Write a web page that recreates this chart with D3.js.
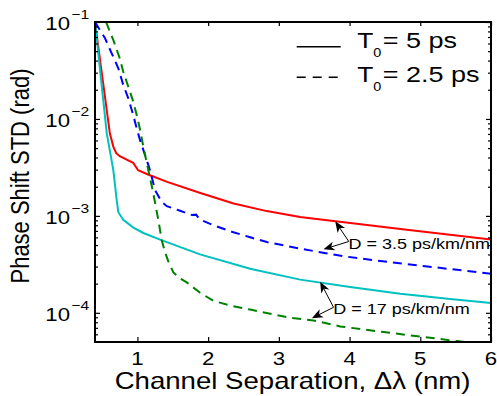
<!DOCTYPE html>
<html>
<head>
<meta charset="utf-8">
<script src="https://cdn.jsdelivr.net/npm/d3@7"></script>
<style>
  html, body { margin: 0; padding: 0; background: #fff; }
  text { font-family: "Liberation Sans", Arial, Helvetica, sans-serif; fill: #000; }
</style>
</head>
<body>
<svg id="chart" width="497" height="396"></svg>
<script>
// Phase-shift standard deviation versus channel separation.
// T0 = 5 ps, D = 3.5 ps/km/nm (solid red)
const sepT5D35 = [0.40, 0.51, 0.61, 0.66, 0.70, 0.75, 0.94, 1.01, 1.15, 1.42, 1.89, 2.36, 2.83, 3.30, 3.77, 4.01, 4.72, 5.42, 6.00];
const stdT5D35 = [0.1, 2.5e-2, 7.1e-3, 5.15e-3, 4.43e-3, 4.13e-3, 3.52e-3, 2.96e-3, 2.67e-3, 2.24e-3, 1.72e-3, 1.34e-3, 1.12e-3, 9.75e-4, 8.86e-4, 8.45e-4, 7.34e-4, 6.38e-4, 5.69e-4];
// T0 = 5 ps, D = 17 ps/km/nm (solid cyan)
const sepT5D17 = [0.40, 0.566, 0.659, 0.707, 0.730, 0.800, 0.942, 1.084, 1.320, 1.886, 2.594, 3.301, 4.009, 4.716, 5.424, 6.00];
const stdT5D17 = [0.1, 7.13e-3, 2.96e-3, 1.45e-3, 1.09e-3, 9.12e-4, 7.57e-4, 6.66e-4, 5.69e-4, 4.01e-4, 2.85e-4, 2.20e-4, 1.85e-4, 1.57e-4, 1.39e-4, 1.26e-4];
// T0 = 2.5 ps, D = 3.5 ps/km/nm (dashed blue)
const sepT25D35 = [0.40, 0.542, 0.636, 0.730, 0.800, 0.871, 0.934, 0.990, 1.037, 1.108, 1.178, 1.249, 1.344, 1.415, 1.603, 1.770, 1.830, 1.880, 2.074, 2.357, 2.594, 2.830, 3.301, 3.914, 4.575, 6.00];
const stdT25D35 = [0.1, 6.79e-2, 4.75e-2, 3.33e-2, 2.24e-2, 1.63e-2, 1.14e-2, 7.98e-3, 6.04e-3, 4.23e-3, 2.96e-3, 1.84e-3, 1.39e-3, 1.26e-3, 1.13e-3, 1.02e-3, 1.03e-3, 9.2e-4, 8.0e-4, 6.78e-4, 6.01e-4, 5.37e-4, 4.59e-4, 3.83e-4, 3.33e-4, 2.53e-4];
// T0 = 2.5 ps, D = 17 ps/km/nm (dashed green)
const sepT25D17 = [0.556, 0.659, 0.744, 0.800, 0.871, 0.942, 1.001, 1.044, 1.084, 1.154, 1.225, 1.296, 1.344, 1.391, 1.437, 1.508, 1.603, 1.698, 1.886, 2.074, 2.311, 2.594, 3.160, 3.489, 3.867, 4.480, 5.519, 6.00];
const stdT25D17 = [0.1, 6.52e-2, 4.35e-2, 3.07e-2, 2.15e-2, 1.50e-2, 1.02e-2, 7.31e-3, 5.15e-3, 2.96e-3, 1.70e-3, 9.01e-4, 5.60e-4, 4.21e-4, 3.40e-4, 2.61e-4, 2.26e-4, 2.06e-4, 1.61e-4, 1.33e-4, 1.19e-4, 1.08e-4, 8.89e-5, 8.34e-5, 7.24e-5, 6.33e-5, 5.11e-5, 4.6e-5];

// Axis ticks and labels
const xTicks = [1, 2, 3, 4, 5, 6];
const yMajorTicks = [1e-4, 1e-3, 1e-2, 1e-1];
const yExponents = ["\u22124", "\u22123", "\u22122", "\u22121"];
const yMinorTicks = [6e-5, 7e-5, 8e-5, 9e-5, 2e-4, 3e-4, 4e-4, 5e-4, 6e-4, 7e-4, 8e-4, 9e-4,
                     2e-3, 3e-3, 4e-3, 5e-3, 6e-3, 7e-3, 8e-3, 9e-3, 2e-2, 3e-2, 4e-2, 5e-2, 6e-2, 7e-2, 8e-2, 9e-2];

const xTitle = "Channel Separation, \u0394\u03bb (nm)";
const yTitle = "Phase Shift STD (rad)";
const legendLabels = [["T", "0", "= 5 ps"], ["T", "0", "= 2.5 ps"]];
const noteLabels = ["D = 3.5 ps/km/nm", "D = 17 ps/km/nm"];

const series = [
  { xs: sepT5D35, ys: stdT5D35, color: "#ff0000", dash: null },
  { xs: sepT5D17, ys: stdT5D17, color: "#00c0c0", dash: null },
  { xs: sepT25D35, ys: stdT25D35, color: "#0000ff", dash: "9,6" },
  { xs: sepT25D17, ys: stdT25D17, color: "#008000", dash: "9,6" }
];

const SX = 1.2; // horizontal stretch of the lettering
const svg = d3.select("#chart");
const plotLeft = 95, plotRight = 491, plotTop = 22, plotBottom = 342;

const x = d3.scaleLinear().domain([0.4, 6]).range([plotLeft, plotRight]);
const y = d3.scaleLog().domain([5e-5, 0.1]).range([plotBottom, plotTop]);

function txt(g, px, py, str, size, anchor, rot) {
  return g.append("text")
    .attr("transform", `translate(${px},${py}) scale(${SX},1)` + (rot ? ` rotate(${rot})` : ""))
    .attr("text-anchor", anchor || "start")
    .style("font-size", size + "px")
    .text(str);
}

// Clip for the curves
svg.append("defs").append("clipPath").attr("id", "plotClip")
  .append("rect").attr("x", plotLeft).attr("y", plotTop)
  .attr("width", plotRight - plotLeft).attr("height", plotBottom - plotTop);

// Curves
const line = d3.line().x(d => x(d[0])).y(d => y(d[1]));
const curves = svg.append("g").attr("clip-path", "url(#plotClip)");
series.forEach(s => {
  curves.append("path")
    .datum(s.xs.map((v, i) => [v, s.ys[i]]))
    .attr("d", line)
    .attr("fill", "none")
    .attr("stroke", s.color)
    .attr("stroke-width", 2)
    .attr("stroke-dasharray", s.dash);
});

// Axes with inward ticks
function styleAxis(g) {
  g.select(".domain").remove();
  g.selectAll("text").remove();
  g.selectAll("line").attr("stroke", "#000").attr("stroke-width", 1.2);
}
svg.append("g").attr("transform", `translate(0,${plotBottom})`)
  .call(d3.axisBottom(x).tickValues(xTicks).tickSize(-5)).call(styleAxis);
svg.append("g").attr("transform", `translate(0,${plotTop})`)
  .call(d3.axisTop(x).tickValues(xTicks).tickSize(-4)).call(styleAxis);
svg.append("g").attr("transform", `translate(${plotLeft},0)`)
  .call(d3.axisLeft(y).tickValues(yMajorTicks).tickSize(-5)).call(styleAxis);
svg.append("g").attr("transform", `translate(${plotLeft},0)`)
  .call(d3.axisLeft(y).tickValues(yMinorTicks).tickSize(-3)).call(styleAxis);
svg.append("g").attr("transform", `translate(${plotRight},0)`)
  .call(d3.axisRight(y).tickValues(yMajorTicks).tickSize(-5)).call(styleAxis);
svg.append("g").attr("transform", `translate(${plotRight},0)`)
  .call(d3.axisRight(y).tickValues(yMinorTicks).tickSize(-3)).call(styleAxis);

// Frame
svg.append("rect")
  .attr("x", plotLeft).attr("y", plotTop)
  .attr("width", plotRight - plotLeft).attr("height", plotBottom - plotTop)
  .attr("fill", "none").attr("stroke", "#000").attr("stroke-width", 2);

// Tick labels
const labels = svg.append("g");
xTicks.forEach(t => txt(labels, x(t), 365, String(t), 18.5, "middle"));
yMajorTicks.forEach((t, i) => {
  txt(labels, 70, y(t) + 8, "10", 18.5, "end");
  txt(labels, 71.5, y(t) - 3.2, yExponents[i], 13, "start");
});

// Axis titles
txt(svg, 292.5, 388.5, xTitle, 23, "middle");
txt(svg, 28.5, 176, yTitle, 22, "middle", -90);

// Legend
const legend = svg.append("g");
[46.7, 77.3].forEach((ly, i) => {
  legend.append("line")
    .attr("x1", 296.7).attr("x2", 340.7).attr("y1", ly).attr("y2", ly)
    .attr("stroke", "#000").attr("stroke-width", 1.5)
    .attr("stroke-dasharray", i === 1 ? "9,7" : null);
  const base = ly + 1.6 + (i === 1 ? 3.4 : 0);
  txt(legend, 357.3, base, legendLabels[i][0], 22, "start");
  txt(legend, 373.3, base + 9, legendLabels[i][1], 12, "start");
  txt(legend, 382.7, base, legendLabels[i][2], 22.5, "start");
});

// Annotations: arrows from the label to each curve
const notes = [
  { label: noteLabels[0], tx: 348.5, ty: 249, tail: [3.989, 5.44e-4], tips: [[3.797, 8.8e-4], [3.631, 4.52e-4]] },
  { label: noteLabels[1], tx: 333.3, ty: 314, tail: [3.773, 1.14e-4], tips: [[3.584, 2.09e-4], [3.467, 8.79e-5]] }
];
const ann = svg.append("g");
notes.forEach(n => {
  const x0 = x(n.tail[0]), y0 = y(n.tail[1]);
  n.tips.forEach(tp => {
    const x1 = x(tp[0]), y1 = y(tp[1]);
    const dx = x1 - x0, dy = y1 - y0, len = Math.hypot(dx, dy);
    const ux = dx / len, uy = dy / len, nx = -uy, ny = ux;
    const L = 11, W = 4.5, N = 3;
    ann.append("line")
      .attr("x1", x0).attr("y1", y0)
      .attr("x2", x1 - ux * (L - N)).attr("y2", y1 - uy * (L - N))
      .attr("stroke", "#000").attr("stroke-width", 1);
    const pts = [
      [x1, y1],
      [x1 - ux * L + nx * W, y1 - uy * L + ny * W],
      [x1 - ux * (L - N), y1 - uy * (L - N)],
      [x1 - ux * L - nx * W, y1 - uy * L - ny * W]
    ];
    ann.append("path").attr("d", "M" + pts.map(p => p.join(",")).join("L") + "Z").attr("fill", "#000");
  });
  txt(ann, n.tx, n.ty, n.label, 15, "start");
});
</script>
</body>
</html>
